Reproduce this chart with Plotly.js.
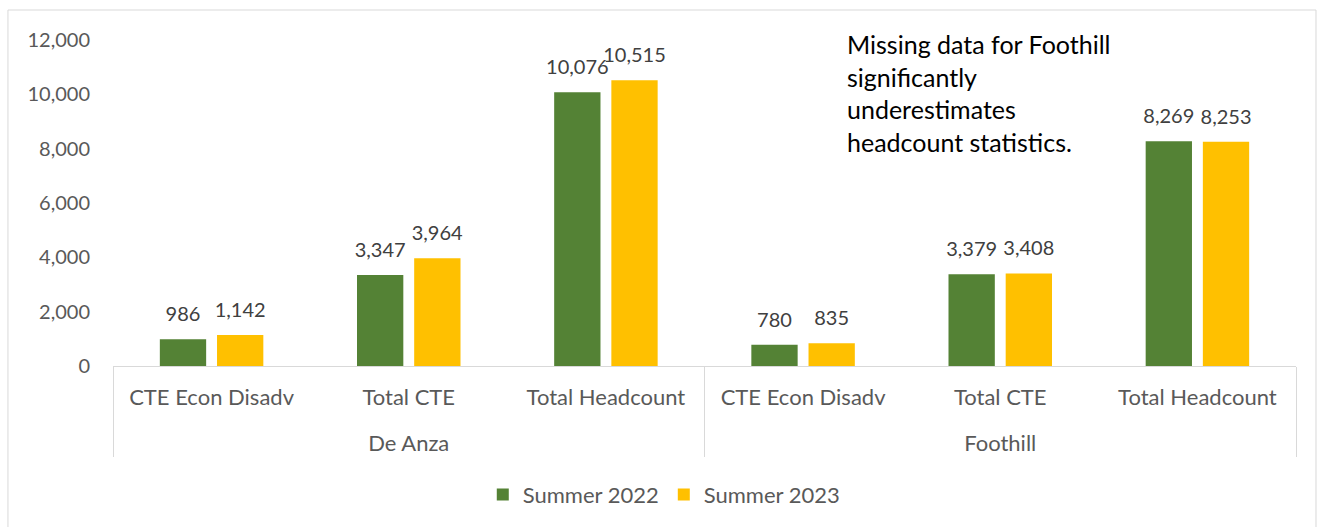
<!DOCTYPE html>
<html>
<head>
<meta charset="utf-8">
<script src="https://cdn.plot.ly/plotly-3.0.1.min.js"></script>
<style>html,body{margin:0;padding:0;background:#fff;}#chart{width:1323px;height:527px;}</style>
</head>
<body>
<div id="chart"></div>
<script>
const colleges = ["De Anza", "De Anza", "De Anza", "Foothill", "Foothill", "Foothill"];
const measures = ["CTE Econ Disadv", "Total CTE", "Total Headcount", "CTE Econ Disadv", "Total CTE", "Total Headcount"];
const summer2022 = [986, 3347, 10076, 780, 3379, 8269];
const summer2023 = [1142, 3964, 10515, 835, 3408, 8253];
const yTicks = [0, 2000, 4000, 6000, 8000, 10000, 12000];
const note = "Missing data for Foothill<br>significantly<br>underestimates<br>headcount statistics.";

const FONT = "Lato, 'Open Sans', sans-serif";
const NBSP = "\u00a0";

// inner-level labels carry a blank second line to open the gap to the outer level
const innerLabels = measures.map(m => m + "<br>" + NBSP);

function barTrace(name, values, color) {
  return {
    type: "bar", name: name,
    x: [colleges, innerLabels], y: values,
    marker: {color: color},
    texttemplate: "<span style='font-size:20px'>%{y:,}</span><br>" + NBSP,
    textposition: "outside", constraintext: "none",
    textfont: {family: FONT, size: 10, color: "#404040"},
    cliponaxis: false, hoverinfo: "none"
  };
}

const traces = [
  barTrace("Summer 2022", summer2022, "#548235"),
  barTrace("Summer 2023", summer2023, "#FFC000")
];

const layout = {
  width: 1323, height: 527,
  margin: {l: 113, r: 27, t: 40, b: 161, autoexpand: false},
  paper_bgcolor: "#ffffff", plot_bgcolor: "#ffffff",
  font: {family: FONT, size: 19, color: "#595959"},
  barmode: "group", bargap: 0.42, bargroupgap: 0.19,
  showlegend: true,
  legend: {orientation: "h", x: 0.466, xanchor: "center", y: -0.33, yanchor: "top",
           font: {family: FONT, size: 22, color: "#595959"}},
  xaxis: {
    type: "multicategory", automargin: false,
    showline: true, linecolor: "#d9d9d9", linewidth: 1,
    showgrid: false, zeroline: false, ticks: "",
    showdividers: true, dividercolor: "#d9d9d9", dividerwidth: 1,
    ticklabelstandoff: 12,
    tickfont: {family: FONT, size: 22, color: "#595959"}
  },
  yaxis: {
    range: [0, 12000], tickvals: yTicks, tickformat: ",d", automargin: false,
    showgrid: false, zeroline: false, showline: false, ticks: "",
    ticklabelstandoff: 22,
    tickfont: {family: FONT, size: 20, color: "#595959"}
  },
  annotations: [{
    xref: "paper", yref: "paper", x: 0.619, y: 1.04,
    xanchor: "left", yanchor: "top", align: "left", showarrow: false,
    text: note,
    font: {family: FONT, size: 25, color: "#000000"}
  }],
  shapes: [{
    type: "rect", xref: "paper", yref: "paper",
    x0: -0.0888, x1: 1.0169, y0: -0.52, y1: 1.092,
    line: {color: "#d9d9d9", width: 1}, fillcolor: "rgba(0,0,0,0)", layer: "below"
  }]
};

Plotly.newPlot("chart", traces, layout, {displayModeBar: false, staticPlot: true});
</script>
</body>
</html>
